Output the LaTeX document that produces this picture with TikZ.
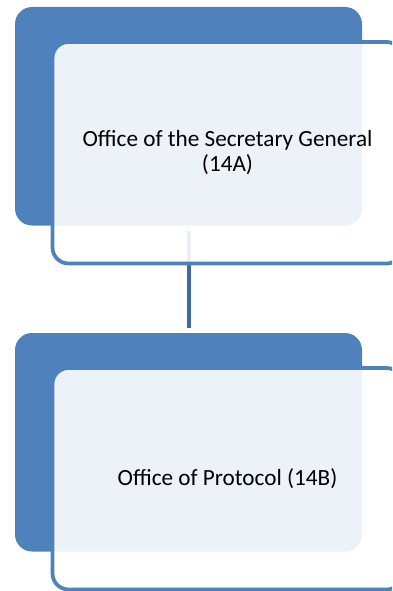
\documentclass[tikz,border=0pt]{standalone}
\usepackage{fontspec}
\setmainfont{Carlito}
\definecolor{accblue}{RGB}{79,129,189}
\definecolor{linkblue}{RGB}{65,106,158}
\begin{document}
\begin{tikzpicture}[x=1pt,y=-1pt,
  backbox/.style={rectangle, rounded corners=17pt, fill=accblue, draw=none,
    minimum width=347pt, minimum height=218.5pt, inner sep=0pt},
  frontbox/.style={rectangle, rounded corners=16pt, draw=accblue, line width=3.75pt,
    fill=white, fill opacity=0.9, text opacity=1, text=black,
    minimum width=350pt, minimum height=221.5pt, inner sep=0pt,
    align=center, font=\fontsize{23.2}{25}\selectfont},
  link/.style={draw=linkblue, line width=4pt}]
\useasboundingbox (0,0) rectangle (392,591);
\begin{scope}
\clip (0,0) rectangle (392,591);
\node[backbox] (backA) at (188.5,116.25) {};
\node[backbox] (backB) at (188.5,442.25) {};
\draw[link, shorten <=5.5pt, shorten >=5pt] ([xshift=0.2pt]backA.south) -- ([xshift=0.2pt]backB.north);
\node[frontbox] (secgen) at (227.5,152.75) {Office of the Secretary General\\(14A)};
\node[frontbox] (protocol) at (227.5,478.75) {Office of Protocol (14B)};
\end{scope}
\end{tikzpicture}
\end{document}
